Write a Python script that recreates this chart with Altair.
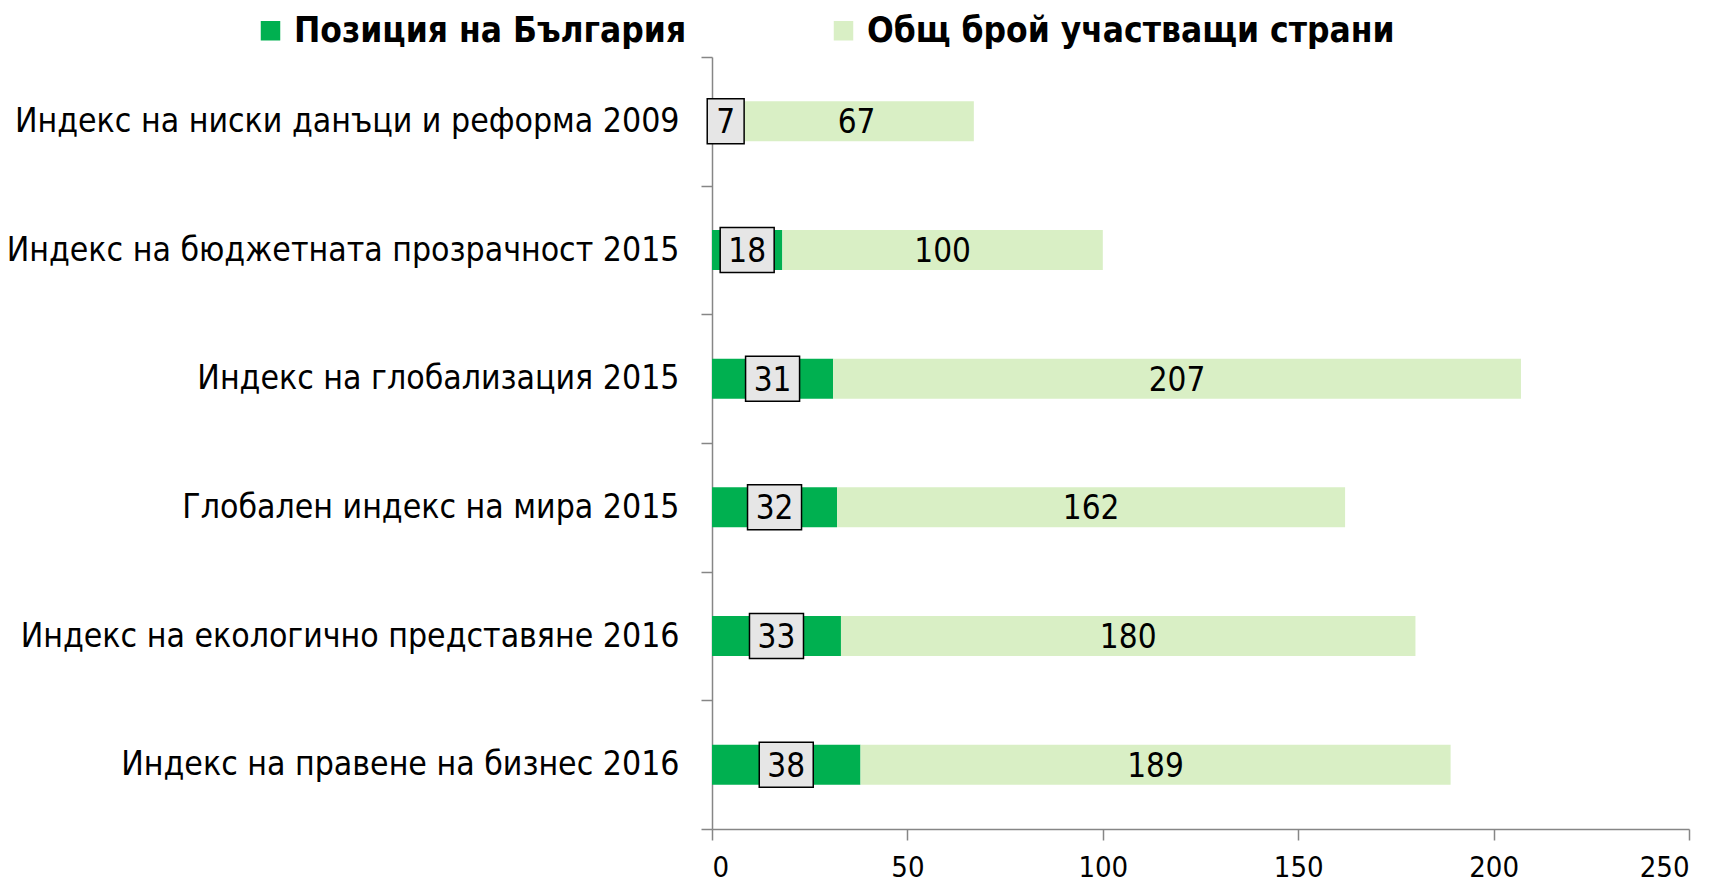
import altair as alt
import pandas as pd

categories = [
    "Индекс на ниски данъци и реформа 2009",
    "Индекс на бюджетната прозрачност 2015",
    "Индекс на глобализация 2015",
    "Глобален индекс на мира 2015",
    "Индекс на екологично представяне 2016",
    "Индекс на правене на бизнес 2016",
]
positions = [7, 18, 31, 32, 33, 38]
totals = [67, 100, 207, 162, 180, 189]
series = ["Позиция на България", "Общ брой участващи страни"]

FONT = "DejaVu Sans Condensed, DejaVu Sans, sans-serif"

rows = []
for c, p, t in zip(categories, positions, totals):
    rows.append({"cat": c, "series": series[0], "start": 0, "end": p, "label": p,
                 "mid": p / 2, "digits": str(len(str(p)))})
    rows.append({"cat": c, "series": series[1], "start": p, "end": t, "label": t,
                 "mid": (p + t) / 2, "digits": str(len(str(t)))})
df = pd.DataFrame(rows)

ysc = alt.Y("cat:N", sort=categories, title=None,
            scale=alt.Scale(paddingInner=0, paddingOuter=0),
            axis=alt.Axis(tickBand="extent", domainColor="#868686", tickColor="#868686",
                          tickSize=11, labelFont=FONT, labelFontSize=33.5, labelColor="black",
                          labelPadding=22, labelLimit=800, domainWidth=1.5, tickWidth=1.5))
xsc = alt.X("start:Q", title=None,
            scale=alt.Scale(domain=[0, 250], nice=False),
            axis=alt.Axis(values=[0, 50, 100, 150, 200, 250], grid=False,
                          domainColor="#868686", tickColor="#868686", tickSize=11,
                          labelFont=FONT, labelFontSize=29, labelColor="black",
                          labelPadding=13, domainWidth=1.5, tickWidth=1.5))

bars = alt.Chart(df).mark_bar(size=40).encode(
    y=ysc,
    x=xsc,
    x2="end:Q",
    color=alt.Color("series:N", sort=series,
                    scale=alt.Scale(domain=series, range=["#00b050", "#d9efc5"]),
                    title=None,
                    legend=alt.Legend(orient="none", legendX=-459, legendY=-44,
                                      direction="horizontal", symbolType="square",
                                      symbolSize=380, symbolStrokeWidth=0,
                                      labelFont=FONT, labelFontSize=35, labelFontWeight="bold",
                                      labelColor="black", columnPadding=139, labelOffset=6,
                                      labelLimit=800, padding=0)),
)

box_df = df[df["series"] == series[0]]
boxes = alt.Chart(box_df).mark_point(filled=True, fill="#e6e6e6", stroke="black",
                                      strokeWidth=1.5, opacity=1, size=2025).encode(
    y=alt.Y("cat:N", sort=categories),
    x=alt.X("mid:Q"),
    shape=alt.Shape("digits:N", legend=None,
                    scale=alt.Scale(domain=["1", "2"],
                                    range=["M-0.82,-1L0.82,-1L0.82,1L-0.82,1Z",
                                           "M-1.2,-1L1.2,-1L1.2,1L-1.2,1Z"])),
)

text = alt.Chart(df).mark_text(font=FONT, fontSize=33, color="black", baseline="middle",
                               dy=2).encode(
    y=alt.Y("cat:N", sort=categories),
    x=alt.X("mid:Q"),
    text="label:Q",
)

chart = alt.layer(bars, boxes, text).properties(
    width=977, height=772,
    autosize=alt.AutoSizeParams(type="none"),
    padding={"left": 704, "top": 49, "right": 18, "bottom": 54},
).configure_view(stroke=None)

chart.save("out.html", embed_options={"renderer": "svg", "actions": False})
